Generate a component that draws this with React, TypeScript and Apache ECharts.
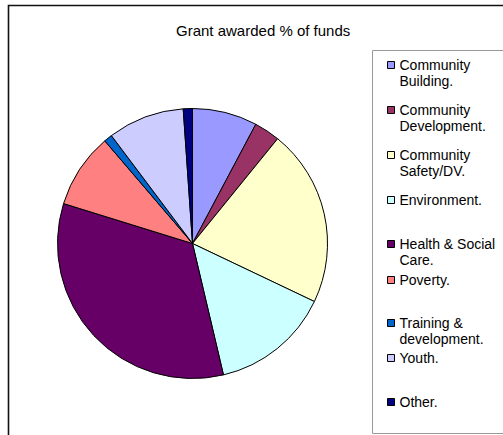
import React, { useEffect, useRef } from "react";
import * as echarts from "echarts";

const TITLE = "Grant awarded % of funds";
const categories = [
  "Community Building.",
  "Community Development.",
  "Community Safety/DV.",
  "Environment.",
  "Health & Social Care.",
  "Poverty.",
  "Training & development.",
  "Youth.",
  "Other.",
];
const legendLines = [
  ["Community", "Building."],
  ["Community", "Development."],
  ["Community", "Safety/DV."],
  ["Environment."],
  ["Health & Social", "Care."],
  ["Poverty."],
  ["Training &", "development."],
  ["Youth."],
  ["Other."],
];
const values = [7.8, 3.1, 21.3, 14.3, 33.6, 9.0, 1.0, 9.2, 1.1];
const colors = [
  "#9999FF",
  "#993366",
  "#FFFFCC",
  "#CCFFFF",
  "#660066",
  "#FF8080",
  "#0066CC",
  "#CCCCFF",
  "#000080",
];
const legendCenters = [65, 110, 155, 200, 244, 280, 323, 358, 402];

const FONT = "'Liberation Sans', Arial, sans-serif";
const LH = 16;

export default function App() {
  const ref = useRef<HTMLDivElement>(null);
  useEffect(() => {
    if (!ref.current) return;
    const chart = echarts.init(ref.current, undefined, { renderer: "svg" });
    const legends = categories.map((name, i) => {
      const lines = legendLines[i];
      const textLines = lines.length > 1 ? [" ", ...lines] : lines;
      const n = textLines.length;
      return {
        data: [name],
        left: 387,
        top: legendCenters[i] - (n * LH) / 2,
        padding: 0,
        orient: "vertical",
        icon: "rect",
        itemWidth: 7,
        itemHeight: 7,
        selectedMode: false,
        itemStyle: { borderColor: "#000", borderWidth: 1 },
        formatter: () => textLines.join("\n"),
        textStyle: {
          fontFamily: FONT,
          fontSize: 14,
          lineHeight: LH,
          color: "#000",
        },
      };
    });
    chart.setOption({
      animation: false,
      backgroundColor: "#fff",
      title: {
        text: TITLE,
        left: 176,
        top: 23,
        padding: 0,
        textStyle: {
          fontFamily: FONT,
          fontSize: 15,
          fontWeight: "normal",
          color: "#000",
        },
      },
      graphic: [
        {
          type: "rect",
          shape: { x: 8.5, y: 5.5, width: 700, height: 700 },
          style: { fill: "none", stroke: "#111", lineWidth: 1.6 },
          silent: true,
        },
        {
          type: "rect",
          shape: { x: 372.5, y: 50.5, width: 300, height: 383 },
          style: { fill: "none", stroke: "#999", lineWidth: 1 },
          silent: true,
        },
      ],
      legend: legends,
      series: [
        {
          type: "pie",
          center: [192.5, 243.5],
          radius: 135,
          startAngle: 90,
          clockwise: true,
          avoidLabelOverlap: false,
          label: { show: false },
          labelLine: { show: false },
          emphasis: { disabled: true },
          itemStyle: { borderColor: "#000", borderWidth: 1 },
          data: categories.map((name, i) => ({
            name,
            value: values[i],
            itemStyle: { color: colors[i] },
          })),
        },
      ],
    });
    return () => chart.dispose();
  }, []);
  return (
    <div
      ref={ref}
      style={{ position: "fixed", left: 0, top: 0, width: 503, height: 435 }}
    />
  );
}
